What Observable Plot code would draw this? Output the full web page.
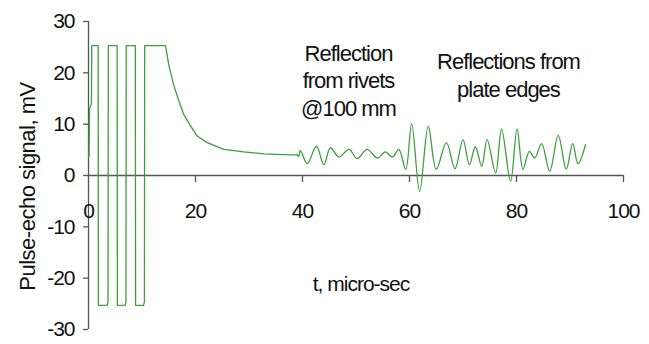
<!DOCTYPE html>
<html><head><meta charset="utf-8">
<script src="https://cdn.jsdelivr.net/npm/d3@7"></script>
<script src="https://cdn.jsdelivr.net/npm/@observablehq/plot@0.6"></script>
<style>
html,body{margin:0;padding:0;background:#fff;}
#chart svg{display:block;}
</style></head><body><div id="chart"></div>
<script>
// Pulse (excitation + ring-down)
const pulseT = [0, 0.1, 0.2, 0.55, 0.6, 1.8, 1.85, 3.5, 3.65, 3.7, 5.35, 5.4, 6.85, 7.0, 7.05, 8.75, 8.8, 10.3, 10.45, 10.5, 14.4, 15.0, 15.9, 16.9, 17.8, 19.1, 20.3, 22.2, 25.3, 29.0, 32.8, 37.8, 39.0];
const pulseV = [3.5, 3.7, 13.0, 14.0, 25.3, 25.3, -25.3, -25.3, -24.6, 25.3, 25.3, -25.3, -25.3, -24.6, 25.3, 25.3, -25.3, -25.3, -24.6, 25.3, 25.3, 21.6, 17.7, 14.5, 11.9, 9.6, 7.7, 6.4, 5.1, 4.6, 4.2, 4.0, 4.0];
// Echoes (rivets, plate edges)
const echoT = [39.0, 39.3, 39.6, 40.9, 42.6, 44.0, 45.2, 46.8, 48.7, 50.2, 52.1, 54.0, 55.5, 56.8, 58.0, 59.3, 60.4, 61.9, 63.5, 65.0, 66.9, 68.5, 70.0, 71.2, 72.3, 73.5, 74.5, 76.1, 77.2, 78.9, 80.1, 81.2, 82.4, 83.4, 84.7, 86.2, 87.8, 89.3, 90.5, 91.5, 92.9];
const echoV = [4.0, 3.7, 4.9, 2.3, 5.7, 2.1, 5.4, 3.6, 5.1, 3.3, 5.1, 3.4, 4.6, 3.6, 5.1, 1.2, 10.1, -3.1, 9.6, 1.2, 6.4, 1.3, 7.0, 2.1, 5.6, 1.8, 7.0, 0.5, 9.1, -1.1, 9.1, 1.2, 4.7, 3.4, 6.2, 0.8, 7.8, 1.2, 6.2, 2.3, 6.0];

const xTicks = [0, 20, 40, 60, 80, 100];
const yTicks = [-30, -20, -10, 0, 10, 20, 30];
const xTitle = "t, micro-sec";
const yTitle = "Pulse-echo signal, mV";
const noteText = ["Reflection\nfrom rivets\n@100 mm", "Reflections from\nplate edges"];
const noteT = [48.6, 78.5];
const noteV = [18.7, 19.7];

const pulse = pulseT.map((t, i) => ({t, v: pulseV[i]}));
const echo = echoT.map((t, i) => ({t, v: echoV[i]}));
const notes = noteText.map((text, i) => ({text, t: noteT[i], v: noteV[i]}));

const font = "'Liberation Sans', Arial, sans-serif";
const axisColor = "#555";
const lineColor = "#3c9f3c";
const ink = "#111";

const chart = Plot.plot({
  width: 649, height: 344,
  marginLeft: 88, marginRight: 26, marginTop: 21, marginBottom: 15,
  style: {fontFamily: font, background: "#fff", color: ink},
  x: {domain: [0, 100], axis: null},
  y: {domain: [-30, 30], axis: null},
  marks: [
    // axes
    Plot.ruleY([0], {stroke: axisColor, strokeWidth: 1.3}),
    Plot.ruleX(xTicks.slice(1), {y1: 0, y2: 0, insetBottom: -7, stroke: axisColor, strokeWidth: 1.3}),
    Plot.ruleX([0], {stroke: axisColor, strokeWidth: 1.3}),
    Plot.ruleY(yTicks, {x1: 0, x2: 0, insetLeft: -5, stroke: axisColor, strokeWidth: 1.3}),
    Plot.text(yTicks, {x: 0, y: d => d, text: d => String(d), textAnchor: "end", dx: -14, fontSize: 21, fill: ink}),
    Plot.text(xTicks, {x: d => d, y: 0, text: d => String(d), dy: 36, fontSize: 21, fill: ink}),
    // data
    Plot.line(pulse, {x: "t", y: "v", stroke: lineColor, strokeWidth: 1.3}),
    Plot.line(echo, {x: "t", y: "v", stroke: lineColor, strokeWidth: 1.3, curve: "catmull-rom"}),
    // annotations
    Plot.text(notes, {x: "t", y: "v", text: "text", fontSize: 22, lineHeight: 1.25, fill: ink}),
    Plot.text([xTitle], {frameAnchor: "bottom", dx: 5, dy: -39, fontSize: 21, fill: ink}),
    Plot.text([yTitle], {frameAnchor: "left", textAnchor: "middle", rotate: -90, dx: -61, dy: 11, fontSize: 22, fill: ink})
  ]
});
d3.select(chart).selectAll("text").style("letter-spacing", "-1px");
d3.select(chart).selectAll("text").filter(function() { return this.textContent === yTitle; }).style("letter-spacing", "-0.5px");
document.getElementById("chart").appendChild(chart);
</script>
</body></html>
